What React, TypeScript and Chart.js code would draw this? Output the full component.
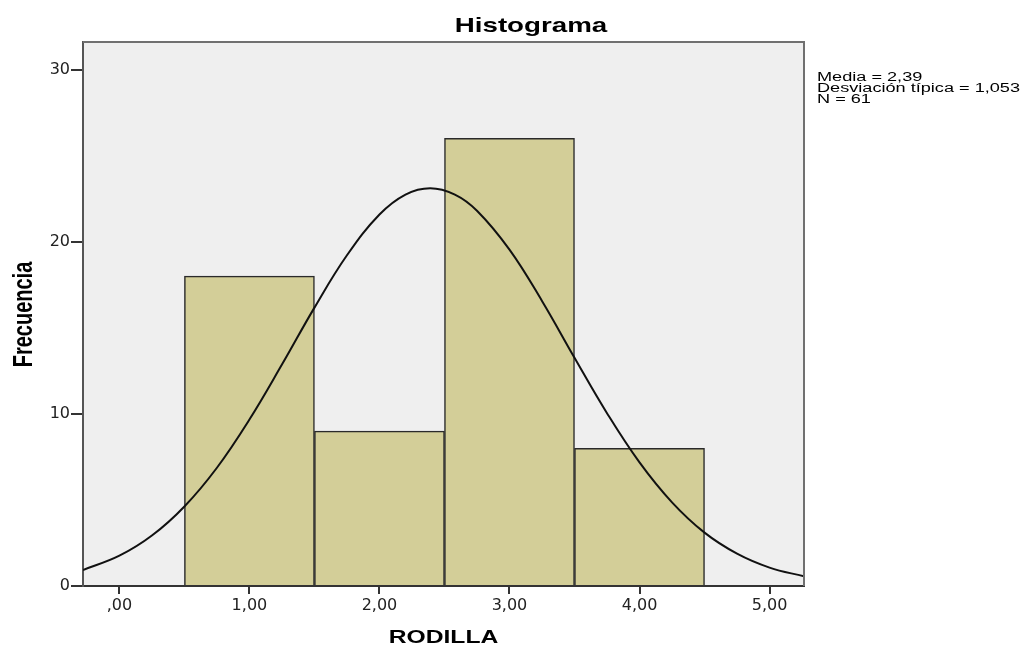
import React, { useEffect, useRef } from "react";
import { Chart, registerables } from "chart.js";

Chart.register(...registerables);

// ---- data ----
const binCenters = [1, 2, 3, 4];
const frequencies = [18, 9, 26, 8];

const curveX = [-0.28, 0, 0.25, 0.5, 0.75, 1, 1.25, 1.5, 1.75, 2, 2.2, 2.39, 2.58, 2.75, 3, 3.25, 3.5, 3.75, 4, 4.25, 4.5, 4.75, 5, 5.265];
const curveY = [0.93, 1.76, 2.93, 4.62, 6.87, 9.67, 12.86, 16.17, 19.21, 21.58, 22.74, 23.11, 22.74, 21.8, 19.54, 16.56, 13.26, 10.04, 7.18, 4.86, 3.1, 1.88, 1.07, 0.56];

const xTickValues = [0, 1, 2, 3, 4, 5];
const xTickLabels = [",00", "1,00", "2,00", "3,00", "4,00", "5,00"];
const yTickValues = [0, 10, 20, 30];

const chartTitle = "Histograma";
const xAxisTitle = "RODILLA";
const yAxisTitle = "Frecuencia";
const statsLines = ["Media = 2,39", "Desviación típica = 1,053", "N = 61"];

const X_MIN = -0.28;
const X_MAX = 5.265;
const Y_MIN = 0;
const Y_MAX = 31.6;

function drawStretched(
  ctx: CanvasRenderingContext2D,
  text: string,
  x: number,
  y: number,
  font: string,
  sx: number,
  align: CanvasTextAlign,
  rotate = false
) {
  ctx.save();
  ctx.font = font;
  ctx.fillStyle = "#000";
  ctx.textAlign = align;
  ctx.textBaseline = "alphabetic";
  ctx.translate(x, y);
  ctx.scale(sx, 1);
  if (rotate) ctx.rotate(-Math.PI / 2);
  ctx.fillText(text, 0, 0);
  ctx.restore();
}

const decorPlugin = {
  id: "decor",
  beforeDraw(chart: any) {
    const { ctx, chartArea: a } = chart;
    ctx.save();
    ctx.fillStyle = "#efefef";
    ctx.fillRect(a.left, a.top, a.right - a.left, a.bottom - a.top);
    ctx.restore();
  },
  afterDraw(chart: any) {
    const { ctx, chartArea: a } = chart;
    ctx.save();
    ctx.strokeStyle = "#707070";
    ctx.lineWidth = 2;
    ctx.beginPath();
    ctx.moveTo(a.left, a.top);
    ctx.lineTo(a.right, a.top);
    ctx.lineTo(a.right, a.bottom);
    ctx.stroke();
    ctx.restore();

    const F = "'Liberation Sans', Arial, sans-serif";
    drawStretched(ctx, chartTitle, 531, 32, `bold 21px ${F}`, 1.32, "center");
    statsLines.forEach((line, i) => {
      drawStretched(ctx, line, 817, 81 + i * 11, `12.5px ${F}`, 1.45, "left");
    });
    drawStretched(ctx, xAxisTitle, (a.left + a.right) / 2, 643, `bold 18px ${F}`, 1.37, "center");
    drawStretched(ctx, yAxisTitle, 32, 314.5, `bold 20px ${F}`, 1.4, "center", true);
  },
};

export default function App() {
  const canvasRef = useRef<HTMLCanvasElement | null>(null);

  useEffect(() => {
    const canvas = canvasRef.current;
    if (!canvas) return;
    const tickFont = { family: "'DejaVu Sans', sans-serif", size: 16 };

    const chart = new Chart(canvas, {
      type: "bar",
      data: {
        datasets: [
          {
            type: "line",
            data: curveX.map((x, i) => ({ x, y: curveY[i] })),
            borderColor: "#111",
            borderWidth: 2,
            pointRadius: 0,
            fill: false,
            tension: 0.4,
            order: 0,
          } as any,
          {
            type: "bar",
            data: binCenters.map((x, i) => ({ x, y: frequencies[i] })),
            backgroundColor: "#d3ce98",
            borderColor: "#2a2a2a",
            borderWidth: 1.5,
            barPercentage: 1,
            categoryPercentage: 1,
            order: 1,
          } as any,
        ],
      },
      options: {
        animation: false,
        responsive: true,
        maintainAspectRatio: false,
        layout: { padding: { top: 42, right: 225, left: 0, bottom: 0 } },
        plugins: {
          legend: { display: false },
          title: { display: false },
          tooltip: { enabled: false },
        },
        scales: {
          x: {
            type: "linear",
            min: X_MIN,
            max: X_MAX,
            offset: false,
            afterBuildTicks: (scale: any) => {
              scale.ticks = xTickValues.map((v) => ({ value: v }));
            },
            afterFit: (scale: any) => {
              scale.height = 59;
            },
            ticks: {
              font: tickFont,
              color: "#222",
              padding: 2,
              maxRotation: 0,
              autoSkip: false,
              callback: (value: any) => {
                const idx = xTickValues.indexOf(Number(value));
                return idx >= 0 ? xTickLabels[idx] : "";
              },
            },
            grid: {
              drawOnChartArea: false,
              drawTicks: true,
              tickLength: 8,
              color: "#333",
              lineWidth: 2,
              offset: false,
            },
            border: { display: true, color: "#333", width: 2 },
          },
          y: {
            type: "linear",
            min: Y_MIN,
            max: Y_MAX,
            afterBuildTicks: (scale: any) => {
              scale.ticks = yTickValues.map((v) => ({ value: v }));
            },
            afterFit: (scale: any) => {
              scale.width = 83;
            },
            ticks: {
              font: tickFont,
              color: "#222",
              padding: 1,
              autoSkip: false,
              callback: (value: any) => String(value),
            },
            grid: {
              drawOnChartArea: false,
              drawTicks: true,
              tickLength: 12,
              color: "#333",
              lineWidth: 2,
            },
            border: { display: true, color: "#555", width: 2 },
          },
        },
      } as any,
      plugins: [decorPlugin],
    });

    return () => {
      chart.destroy();
    };
  }, []);

  return (
    <div
      style={{
        position: "fixed",
        left: 0,
        top: 0,
        width: 1029,
        height: 645,
        background: "#fff",
      }}
    >
      <canvas ref={canvasRef} />
    </div>
  );
}
